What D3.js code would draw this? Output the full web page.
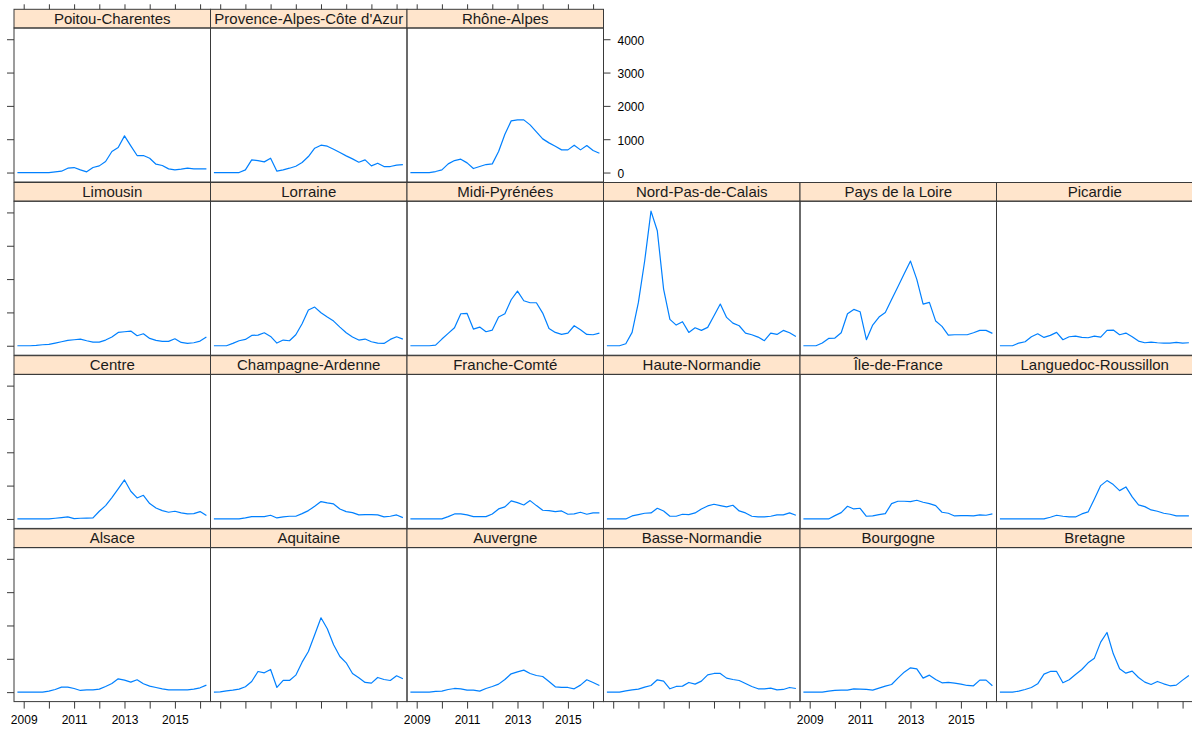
<!DOCTYPE html>
<html>
<head>
<meta charset="utf-8">
<script src="https://cdn.jsdelivr.net/npm/d3@7"></script>
<style>
  html, body { margin: 0; padding: 0; background: #ffffff; }
  svg { display: block; }
  text { font-family: "Liberation Sans", Arial, sans-serif; fill: #000; }
</style>
</head>
<body>
<svg id="chart" width="1192" height="734"></svg>
<script>
// Quarterly observations, 2008 Q4 to 2016 Q2
const quarters = [
  "2008-Q4",
  "2009-Q1","2009-Q2","2009-Q3","2009-Q4",
  "2010-Q1","2010-Q2","2010-Q3","2010-Q4",
  "2011-Q1","2011-Q2","2011-Q3","2011-Q4",
  "2012-Q1","2012-Q2","2012-Q3","2012-Q4",
  "2013-Q1","2013-Q2","2013-Q3","2013-Q4",
  "2014-Q1","2014-Q2","2014-Q3","2014-Q4",
  "2015-Q1","2015-Q2","2015-Q3","2015-Q4",
  "2016-Q1","2016-Q2"
];

const regionNames = [
  "Alsace", "Aquitaine", "Auvergne", "Basse-Normandie", "Bourgogne", "Bretagne",
  "Centre", "Champagne-Ardenne", "Franche-Comté", "Haute-Normandie", "Île-de-France", "Languedoc-Roussillon",
  "Limousin", "Lorraine", "Midi-Pyrénées", "Nord-Pas-de-Calais", "Pays de la Loire", "Picardie",
  "Poitou-Charentes", "Provence-Alpes-Côte d'Azur", "Rhône-Alpes"
];

const alsace          = [0,0,0,0,0,30,80,150,150,110,50,70,70,90,170,260,400,360,300,370,250,180,140,100,70,70,70,70,90,130,210];
const aquitaine       = [0,10,40,60,90,160,320,620,580,680,140,350,350,510,900,1220,1720,2230,1900,1420,1070,880,560,430,290,270,440,380,350,490,400];
const auvergne        = [0,0,0,0,20,30,80,110,100,60,60,30,110,170,240,380,550,610,660,560,500,470,320,160,140,140,100,210,370,290,200];
const basseNormandie  = [0,0,0,40,70,90,150,200,370,330,100,170,180,290,240,330,520,560,560,420,380,350,260,170,100,100,120,70,80,140,110];
const bourgogne       = [0,0,0,0,30,50,60,60,100,90,80,60,120,180,230,420,600,730,700,420,510,380,280,290,270,240,200,190,360,360,190];
const bretagne        = [0,0,0,30,80,140,250,540,620,620,280,370,530,680,880,1020,1500,1790,1150,700,570,630,440,300,230,320,250,190,210,360,500];
const centre          = [0,0,0,0,0,0,20,40,60,10,20,25,30,230,400,640,900,1170,830,630,710,460,330,250,200,230,180,150,160,220,100];
const champagne       = [0,0,0,0,0,30,70,70,70,110,30,60,80,80,160,250,380,520,480,450,300,220,190,120,130,130,120,60,80,120,40];
const francheComte    = [0,0,0,0,0,0,70,150,150,120,70,70,70,150,300,360,540,490,420,550,400,260,250,220,240,140,150,200,140,180,180];
const hauteNormandie  = [0,0,0,0,90,130,170,180,320,240,80,80,140,130,180,300,390,440,400,360,410,240,180,80,60,60,80,120,120,180,110];
const ileDeFrance     = [0,0,0,0,0,100,190,380,300,320,80,90,130,160,460,530,530,520,560,500,460,400,200,170,90,100,100,90,120,110,150];
const languedoc       = [0,0,0,0,0,0,0,0,50,110,80,60,60,150,210,600,1000,1150,1030,850,960,660,420,370,270,230,170,140,90,90,90];
const limousin        = [0,0,0,10,30,40,80,120,160,180,200,150,110,110,170,260,400,420,440,300,360,220,160,130,130,210,100,70,90,140,260];
const lorraine        = [0,0,0,70,150,190,310,320,390,280,80,170,150,330,660,1070,1160,990,860,740,560,390,260,170,200,120,80,70,190,270,200];
const midiPyrenees    = [0,0,0,0,20,200,370,540,960,970,500,560,420,470,860,960,1380,1640,1350,1290,1290,980,520,400,340,380,600,480,340,330,380];
const nordPasDeCalais = [0,0,0,60,400,1300,2550,4040,3450,1700,790,620,720,400,540,460,550,900,1250,850,680,600,380,330,260,150,380,340,460,390,280];
const paysDeLaLoire   = [0,0,0,80,220,230,390,960,1090,1020,180,620,860,1000,1390,1770,2160,2540,1990,1250,1300,740,580,320,330,330,330,390,460,460,370];
const picardie        = [0,0,0,80,120,270,360,250,310,400,180,270,290,250,240,290,260,460,470,330,380,270,140,90,110,90,80,80,100,80,90];
const poitou          = [0,0,0,0,0,0,20,40,130,150,80,20,150,200,330,630,750,1100,800,510,510,430,250,210,110,80,100,130,110,110,110];
const paca            = [0,0,0,0,0,80,380,360,320,430,40,80,130,190,300,480,730,820,790,700,600,500,410,310,380,200,280,180,180,220,240];
const rhoneAlpes      = [0,0,0,0,30,80,260,360,400,290,120,180,240,260,630,1150,1550,1580,1580,1430,1220,1010,890,790,680,680,820,680,810,660,580];

const regionValues = [
  alsace, aquitaine, auvergne, basseNormandie, bourgogne, bretagne,
  centre, champagne, francheComte, hauteNormandie, ileDeFrance, languedoc,
  limousin, lorraine, midiPyrenees, nordPasDeCalais, paysDeLaLoire, picardie,
  poitou, paca, rhoneAlpes
];

const yTicks = [0, 1000, 2000, 3000, 4000];
const xTicks = [2009, 2010, 2011, 2012, 2013, 2014, 2015, 2016];
const xTickLabels = ["2009", "", "2011", "", "2013", "", "2015", ""];

// ---- layout of the trellis ----
const nCols = 6, nRows = 4;
const gridLeft = 14, colW = 196.5;
const gridTop = 9.3, rowPitch = 173.2, stripH = 18.7, plotH = 154;
const frameCol = "#3a3a3a";
const stripFill = "#ffe5cc";
const lineCol = "#0080ff";

const parseQuarter = q => {
  const [y, qq] = q.split("-Q");
  return +y + (+qq - 1) * 0.25;
};
const qx = quarters.map(parseQuarter);

// panels fill from the bottom row upward, left to right
const panels = regionNames.map((name, i) => {
  const col = i % nCols;
  const rowFromBottom = Math.floor(i / nCols);
  const row = nRows - 1 - rowFromBottom;
  return { name, values: regionValues[i], col, row };
});

const x = d3.scaleLinear().domain([2008.615, 2016.413]).range([0, colW]);
const y = d3.scaleLinear().domain([-284, 4337]).range([plotH, 0]);

const svg = d3.select("#chart");

const line = d3.line()
  .x((d, i) => x(qx[i]))
  .y(d => y(d));

const g = svg.selectAll("g.panel")
  .data(panels)
  .join("g")
  .attr("class", "panel")
  .attr("transform", d => `translate(${gridLeft + d.col * colW},${gridTop + d.row * rowPitch})`);

// clip path for strip labels
g.append("clipPath")
  .attr("id", (d, i) => "clip" + i)
  .append("rect")
  .attr("x", 0).attr("y", 0)
  .attr("width", colW).attr("height", stripH);

// strip
g.append("rect")
  .attr("x", 0).attr("y", 0)
  .attr("width", colW).attr("height", stripH)
  .attr("fill", stripFill);

g.append("text")
  .attr("clip-path", (d, i) => `url(#clip${i})`)
  .attr("x", colW / 2)
  .attr("y", stripH / 2 + 5.2)
  .attr("text-anchor", "middle")
  .style("font-size", "15px")
  .style("fill", "#1a1a1a")
  .text(d => d.name);

// series line
g.append("g")
  .attr("transform", `translate(0,${stripH})`)
  .append("path")
  .attr("d", d => line(d.values))
  .attr("fill", "none")
  .attr("stroke", lineCol)
  .attr("stroke-width", 1.2)
  .attr("stroke-linejoin", "round");

// strip frame and panel frame
g.append("rect")
  .attr("x", 0).attr("y", 0)
  .attr("width", colW).attr("height", stripH)
  .attr("fill", "none")
  .attr("stroke", frameCol)
  .attr("stroke-width", 1);

g.append("rect")
  .attr("x", 0).attr("y", stripH)
  .attr("width", colW).attr("height", plotH)
  .attr("fill", "none")
  .attr("stroke", frameCol)
  .attr("stroke-width", 1);

// ---- axes (alternating, lattice style) ----
const tickLen = 7;

// left axis ticks on first column of every row
panels.filter(p => p.col === 0).forEach(p => {
  const ax = d3.axisLeft(y).tickValues(yTicks).tickSize(tickLen).tickFormat("");
  svg.append("g")
    .attr("transform", `translate(${gridLeft},${gridTop + p.row * rowPitch + stripH})`)
    .call(ax)
    .call(s => s.select(".domain").remove())
    .call(s => s.selectAll(".tick line").attr("stroke", frameCol));
});

// right axis on the last panel of each row; labels on the top row
const lastInRow = d3.rollups(panels, v => d3.max(v, p => p.col), p => p.row);
lastInRow.forEach(([row, col]) => {
  const withLabels = row === 0;
  const ax = d3.axisRight(y).tickValues(yTicks).tickSize(tickLen).tickPadding(7)
    .tickFormat(withLabels ? d3.format("d") : "");
  svg.append("g")
    .attr("transform", `translate(${gridLeft + (col + 1) * colW},${gridTop + row * rowPitch + stripH})`)
    .call(ax)
    .call(s => s.select(".domain").remove())
    .call(s => s.selectAll(".tick line").attr("stroke", frameCol))
    .call(s => s.selectAll(".tick text")
      .style("font-size", "12px")
      .style("font-family", "'Liberation Sans', Arial, sans-serif")
      .attr("fill", "#000")
      .attr("dy", "0.42em"));
});

// bottom axis under every column; labels under odd columns
for (let c = 0; c < nCols; c++) {
  const withLabels = c % 2 === 0;
  const ax = d3.axisBottom(x).tickValues(xTicks).tickSize(tickLen).tickPadding(7)
    .tickFormat(withLabels ? ((d, i) => xTickLabels[i]) : "");
  svg.append("g")
    .attr("transform", `translate(${gridLeft + c * colW},${gridTop + (nRows - 1) * rowPitch + stripH + plotH})`)
    .call(ax)
    .call(s => s.select(".domain").remove())
    .call(s => s.selectAll(".tick line").attr("stroke", frameCol))
    .call(s => s.selectAll(".tick text")
      .style("font-size", "12px")
      .style("font-family", "'Liberation Sans', Arial, sans-serif")
      .attr("fill", "#000"));
}

// top axis ticks above the top-row panels
panels.filter(p => p.row === 0).forEach(p => {
  const ax = d3.axisTop(x).tickValues(xTicks).tickSize(5).tickFormat("");
  svg.append("g")
    .attr("transform", `translate(${gridLeft + p.col * colW},${gridTop})`)
    .call(ax)
    .call(s => s.select(".domain").remove())
    .call(s => s.selectAll(".tick line").attr("stroke", frameCol));
});
</script>
</body>
</html>
